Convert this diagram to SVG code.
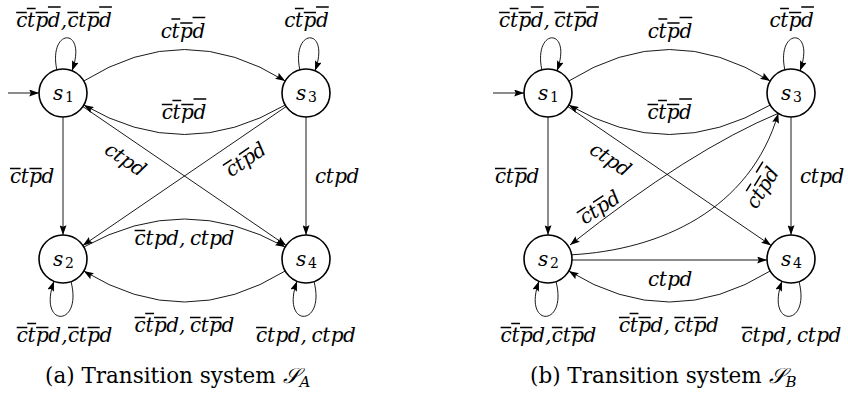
<svg xmlns="http://www.w3.org/2000/svg" width="848" height="397" viewBox="0 0 848 397">
<style>
.node circle{fill:#fff;stroke:#000;stroke-width:1.6}
.node text,.lbl text{font-family:'DejaVu Serif',serif;font-style:italic;font-size:20px;fill:#000}
.node .sub{font-style:normal;font-size:14px}
.edges path{fill:none;stroke:#000;stroke-width:0.9;marker-end:url(#ah)}
.bar{fill:none;stroke:#000;stroke-width:1.5}
.cap{font-family:'DejaVu Serif',serif;font-size:21.5px;fill:#000}
.cal{font-style:italic}
.csub{font-style:italic;font-size:15px}
</style>
<defs>
<marker id="ah" markerUnits="userSpaceOnUse" markerWidth="10" markerHeight="7" viewBox="0 0 9 6.4" refX="9" refY="3.2" orient="auto">
<path d="M0,0 L9,3.2 L0,6.4 L1.5,3.2 z" fill="#000"/>
</marker>
</defs>

<g class="edges" id="connectors">
<path d="M8,93 H39"/>
<path d="M83.8,81 Q184.5,18 285.2,81"/>
<path d="M285.2,105 Q184.5,164 83.8,105"/>
<path d="M63,117 V235"/>
<path d="M306,117 V235"/>
<path d="M82.8,106.5 L286.2,245.5"/>
<path d="M286.2,106.5 L82.8,245.5"/>
<path d="M83.8,247 Q184.5,191 285.2,247"/>
<path d="M285.2,271 Q184.5,333 83.8,271"/>
<path d="M56.8,69.8 C48,27 88,27 72,70.7"/>
<path d="M299.8,69.8 C291,27 331,27 315,70.7"/>
<path d="M71,281.5 C83,328 37,328 54,281.3"/>
<path d="M314,281.5 C326,328 280,328 297,281.3"/>
<path d="M493,93 H524"/>
<path d="M568.8,81 Q669.5,18 770.2,81"/>
<path d="M770.2,105 Q669.5,164 568.8,105"/>
<path d="M548,117 V235"/>
<path d="M791,117 V235"/>
<path d="M567.8,106.5 L771.2,245.5"/>
<path d="M779,113 Q690,150 570,245"/>
<path d="M571.6,254.8 C660,250 750,210 778.3,113.4"/>
<path d="M572,260 H767"/>
<path d="M770.2,271 Q669.5,333 568.8,271"/>
<path d="M541.8,69.8 C533,27 573,27 557,70.7"/>
<path d="M784.8,69.8 C776,27 816,27 800,70.7"/>
<path d="M556,281.5 C568,328 522,328 539,281.3"/>
<path d="M799,281.5 C811,328 765,328 782,281.3"/>
</g>

<g class="node" id="a_s1"><circle cx="63" cy="93" r="24"/><text x="53" y="99.5">s<tspan class="sub" x="65" y="102">1</tspan></text></g>
<g class="node" id="a_s2"><circle cx="63" cy="259" r="24"/><text x="53" y="265.5">s<tspan class="sub" x="65" y="268">2</tspan></text></g>
<g class="node" id="a_s3"><circle cx="306" cy="93" r="24"/><text x="296" y="99.5">s<tspan class="sub" x="308" y="102">3</tspan></text></g>
<g class="node" id="a_s4"><circle cx="306" cy="259" r="24"/><text x="296" y="265.5">s<tspan class="sub" x="308" y="268">4</tspan></text></g>
<g class="node" id="b_s1"><circle cx="548" cy="93" r="24"/><text x="538" y="99.5">s<tspan class="sub" x="550" y="102">1</tspan></text></g>
<g class="node" id="b_s2"><circle cx="548" cy="259" r="24"/><text x="538" y="265.5">s<tspan class="sub" x="550" y="268">2</tspan></text></g>
<g class="node" id="b_s3"><circle cx="791" cy="93" r="24"/><text x="781" y="99.5">s<tspan class="sub" x="793" y="102">3</tspan></text></g>
<g class="node" id="b_s4"><circle cx="791" cy="259" r="24"/><text x="781" y="265.5">s<tspan class="sub" x="793" y="268">4</tspan></text></g>

<g class="lbl" transform="translate(16.2,27)"><text x="0 10.8 19.3 31.6 44.45 51.25 62.05 70.55 82.85" y="0">ctpd,ctpd</text><path class="bar" d="M0,-14.5H10.6M10.6,-18.5H19.45M19.45,-14.5H31.75M31.75,-20H44.45M51.25,-14.5H61.85M70.7,-14.5H83M83,-20H95.7"/></g>
<g class="lbl" transform="translate(160.8,37.5)"><text x="0 10.8 19.3 31.6" y="0">ctpd</text><path class="bar" d="M10.6,-18.5H19.45M19.45,-14.5H31.75M31.75,-20H44.45"/></g>
<g class="lbl" transform="translate(161.8,119)"><text x="0 10.8 19.3 31.6" y="0">ctpd</text><path class="bar" d="M0,-14.5H10.6M10.6,-18.5H19.45M19.45,-14.5H31.75M31.75,-20H44.45"/></g>
<g class="lbl" transform="translate(10,183)"><text x="0 10.8 19.3 31.6" y="0">ctpd</text><path class="bar" d="M0,-14.5H10.6M19.45,-14.5H31.75"/></g>
<g class="lbl" transform="translate(315,183)"><text x="0 10.8 19.3 31.6" y="0">ctpd</text></g>
<g class="lbl" transform="translate(125,160) rotate(34.3) translate(-22.2,6)"><text x="0 10.8 19.3 31.6" y="0">ctpd</text></g>
<g class="lbl" transform="translate(246,160) rotate(-34.3) translate(-22.2,6)"><text x="0 10.8 19.3 31.6" y="0">ctpd</text><path class="bar" d="M0,-14.5H10.6M19.45,-14.5H31.75"/></g>
<g class="lbl" transform="translate(134.6,245)"><text x="0 10.8 19.3 31.6 44.45 51.25 55.35 66.15 74.65 86.95" y="0">ctpd, ctpd</text><path class="bar" d="M0,-14.5H10.6"/></g>
<g class="lbl" transform="translate(134.6,332)"><text x="0 10.8 19.3 31.6 44.45 51.25 55.35 66.15 74.65 86.95" y="0">ctpd, ctpd</text><path class="bar" d="M0,-14.5H10.6M10.6,-18.5H19.45M19.45,-14.5H31.75M55.35,-14.5H65.95M74.8,-14.5H87.1"/></g>
<g class="lbl" transform="translate(16.7,342)"><text x="0 10.8 19.3 31.6 44.45 51.25 62.05 70.55 82.85" y="0">ctpd,ctpd</text><path class="bar" d="M0,-14.5H10.6M10.6,-18.5H19.45M19.45,-14.5H31.75M51.25,-14.5H61.85M70.7,-14.5H83"/></g>
<g class="lbl" transform="translate(256.1,342)"><text x="0 10.8 19.3 31.6 44.45 51.25 55.35 66.15 74.65 86.95" y="0">ctpd, ctpd</text><path class="bar" d="M0,-14.5H10.6"/></g>
<g class="lbl" transform="translate(284.3,27)"><text x="0 10.8 19.3 31.6" y="0">ctpd</text><path class="bar" d="M10.6,-18.5H19.45M19.45,-14.5H31.75M31.75,-20H44.45"/></g>

<g class="lbl" transform="translate(499.1,27)"><text x="0 10.8 19.3 31.6 44.45 51.25 55.35 66.15 74.65 86.95" y="0">ctpd, ctpd</text><path class="bar" d="M0,-14.5H10.6M10.6,-18.5H19.45M19.45,-14.5H31.75M31.75,-20H44.45M55.35,-14.5H65.95M74.8,-14.5H87.1M87.1,-20H99.8"/></g>
<g class="lbl" transform="translate(647.8,37.5)"><text x="0 10.8 19.3 31.6" y="0">ctpd</text><path class="bar" d="M10.6,-18.5H19.45M19.45,-14.5H31.75M31.75,-20H44.45"/></g>
<g class="lbl" transform="translate(647.5,119)"><text x="0 10.8 19.3 31.6" y="0">ctpd</text><path class="bar" d="M0,-14.5H10.6M10.6,-18.5H19.45M19.45,-14.5H31.75M31.75,-20H44.45"/></g>
<g class="lbl" transform="translate(495,183)"><text x="0 10.8 19.3 31.6" y="0">ctpd</text><path class="bar" d="M0,-14.5H10.6M19.45,-14.5H31.75"/></g>
<g class="lbl" transform="translate(800,183)"><text x="0 10.8 19.3 31.6" y="0">ctpd</text></g>
<g class="lbl" transform="translate(610,160) rotate(34.3) translate(-22.2,6)"><text x="0 10.8 19.3 31.6" y="0">ctpd</text></g>
<g class="lbl" transform="translate(600,208) rotate(-33) translate(-22.2,6)"><text x="0 10.8 19.3 31.6" y="0">ctpd</text><path class="bar" d="M0,-14.5H10.6M19.45,-14.5H31.75"/></g>
<g class="lbl" transform="translate(763,188) rotate(-58) translate(-22.2,6)"><text x="0 10.8 19.3 31.6" y="0">ctpd</text><path class="bar" d="M10.6,-18.5H19.45M19.45,-14.5H31.75M31.75,-20H44.45"/></g>
<g class="lbl" transform="translate(648,286)"><text x="0 10.8 19.3 31.6" y="0">ctpd</text></g>
<g class="lbl" transform="translate(619,332)"><text x="0 10.8 19.3 31.6 44.45 51.25 55.35 66.15 74.65 86.95" y="0">ctpd, ctpd</text><path class="bar" d="M0,-14.5H10.6M10.6,-18.5H19.45M19.45,-14.5H31.75M55.35,-14.5H65.95M74.8,-14.5H87.1"/></g>
<g class="lbl" transform="translate(500.6,342)"><text x="0 10.8 19.3 31.6 44.45 51.25 62.05 70.55 82.85" y="0">ctpd,ctpd</text><path class="bar" d="M0,-14.5H10.6M10.6,-18.5H19.45M19.45,-14.5H31.75M51.25,-14.5H61.85M70.7,-14.5H83"/></g>
<g class="lbl" transform="translate(741.6,342)"><text x="0 10.8 19.3 31.6 44.45 51.25 55.35 66.15 74.65 86.95" y="0">ctpd, ctpd</text><path class="bar" d="M0,-14.5H10.6"/></g>
<g class="lbl" transform="translate(769.5,27)"><text x="0 10.8 19.3 31.6" y="0">ctpd</text><path class="bar" d="M10.6,-18.5H19.45M19.45,-14.5H31.75M31.75,-20H44.45"/></g>

<text class="cap" x="45" y="383">(a) Transition system <tspan class="cal">𝒮</tspan><tspan class="csub" dy="4">A</tspan></text>
<text class="cap" x="530" y="383">(b) Transition system <tspan class="cal">𝒮</tspan><tspan class="csub" dy="4">B</tspan></text>
</svg>
